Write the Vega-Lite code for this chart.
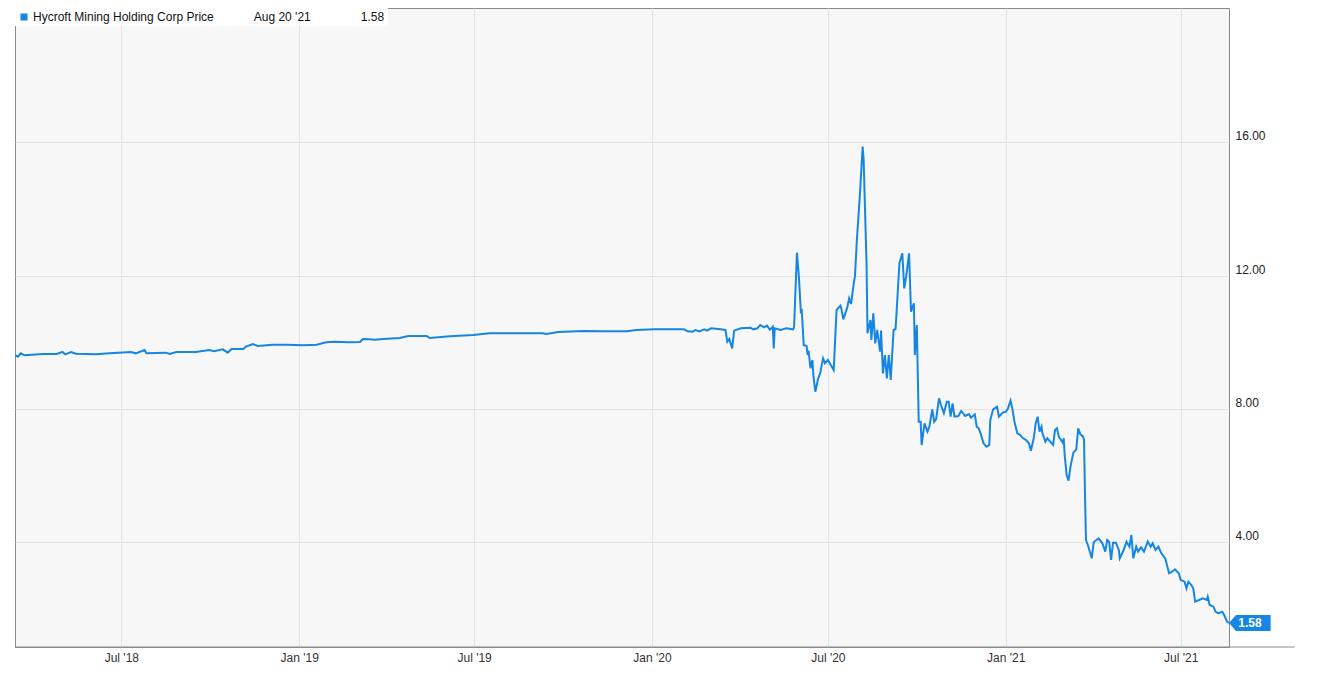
{
  "$schema": "https://vega.github.io/schema/vega-lite/v6.json",
  "width": 1214,
  "height": 639,
  "autosize": {"type": "none"},
  "padding": {"left": 15, "top": 8, "right": 114, "bottom": 33},
  "background": "white",
  "config": {
    "view": {"fill": "#f7f7f7", "stroke": "#8a8a8a", "strokeWidth": 1},
    "font": "Liberation Sans"
  },
  "data": {"values": [
    {"date": "2018-03-13", "price": 9.62}, {"date": "2018-03-16", "price": 9.57}, {"date": "2018-03-19", "price": 9.67}, {"date": "2018-03-23", "price": 9.61},
    {"date": "2018-04-11", "price": 9.65}, {"date": "2018-04-25", "price": 9.65}, {"date": "2018-05-01", "price": 9.71}, {"date": "2018-05-04", "price": 9.64},
    {"date": "2018-05-10", "price": 9.71}, {"date": "2018-05-15", "price": 9.66}, {"date": "2018-06-05", "price": 9.64}, {"date": "2018-06-19", "price": 9.67},
    {"date": "2018-07-11", "price": 9.71}, {"date": "2018-07-16", "price": 9.67}, {"date": "2018-07-25", "price": 9.77}, {"date": "2018-07-27", "price": 9.67},
    {"date": "2018-08-16", "price": 9.69}, {"date": "2018-08-20", "price": 9.65}, {"date": "2018-08-27", "price": 9.71}, {"date": "2018-09-16", "price": 9.71},
    {"date": "2018-09-30", "price": 9.77}, {"date": "2018-10-05", "price": 9.73}, {"date": "2018-10-14", "price": 9.79}, {"date": "2018-10-19", "price": 9.69},
    {"date": "2018-10-23", "price": 9.80}, {"date": "2018-11-04", "price": 9.80}, {"date": "2018-11-07", "price": 9.87}, {"date": "2018-11-14", "price": 9.95},
    {"date": "2018-11-19", "price": 9.89}, {"date": "2018-12-05", "price": 9.93}, {"date": "2018-12-19", "price": 9.93}, {"date": "2019-01-05", "price": 9.91},
    {"date": "2019-01-19", "price": 9.93}, {"date": "2019-01-29", "price": 10.00}, {"date": "2019-02-07", "price": 10.02}, {"date": "2019-02-22", "price": 10.00},
    {"date": "2019-03-05", "price": 10.01}, {"date": "2019-03-08", "price": 10.10}, {"date": "2019-03-15", "price": 10.09}, {"date": "2019-03-20", "price": 10.08},
    {"date": "2019-03-29", "price": 10.10}, {"date": "2019-04-15", "price": 10.13}, {"date": "2019-04-24", "price": 10.19}, {"date": "2019-05-13", "price": 10.19},
    {"date": "2019-05-16", "price": 10.13}, {"date": "2019-06-06", "price": 10.18}, {"date": "2019-06-30", "price": 10.22}, {"date": "2019-07-17", "price": 10.27},
    {"date": "2019-08-14", "price": 10.27}, {"date": "2019-09-10", "price": 10.27}, {"date": "2019-09-14", "price": 10.25}, {"date": "2019-09-26", "price": 10.31},
    {"date": "2019-10-22", "price": 10.34}, {"date": "2019-11-12", "price": 10.33}, {"date": "2019-12-06", "price": 10.33}, {"date": "2019-12-16", "price": 10.37},
    {"date": "2020-01-03", "price": 10.39}, {"date": "2020-01-20", "price": 10.39}, {"date": "2020-02-03", "price": 10.39}, {"date": "2020-02-07", "price": 10.33},
    {"date": "2020-02-12", "price": 10.32}, {"date": "2020-02-15", "price": 10.37}, {"date": "2020-02-19", "price": 10.33}, {"date": "2020-02-24", "price": 10.39},
    {"date": "2020-02-27", "price": 10.35}, {"date": "2020-03-02", "price": 10.42}, {"date": "2020-03-12", "price": 10.39}, {"date": "2020-03-17", "price": 10.37},
    {"date": "2020-03-19", "price": 10.02}, {"date": "2020-03-21", "price": 10.10}, {"date": "2020-03-24", "price": 9.82}, {"date": "2020-03-26", "price": 10.35},
    {"date": "2020-04-02", "price": 10.42}, {"date": "2020-04-12", "price": 10.44}, {"date": "2020-04-15", "price": 10.39}, {"date": "2020-04-19", "price": 10.42},
    {"date": "2020-04-22", "price": 10.52}, {"date": "2020-04-26", "price": 10.45}, {"date": "2020-04-29", "price": 10.50}, {"date": "2020-05-02", "price": 10.38},
    {"date": "2020-05-05", "price": 10.47}, {"date": "2020-05-06", "price": 9.82}, {"date": "2020-05-07", "price": 10.42}, {"date": "2020-05-13", "price": 10.37},
    {"date": "2020-05-19", "price": 10.42}, {"date": "2020-05-26", "price": 10.39}, {"date": "2020-05-27", "price": 10.45}, {"date": "2020-05-30", "price": 12.69},
    {"date": "2020-06-01", "price": 11.97}, {"date": "2020-06-03", "price": 10.92}, {"date": "2020-06-04", "price": 10.95}, {"date": "2020-06-06", "price": 9.92},
    {"date": "2020-06-09", "price": 9.89}, {"date": "2020-06-10", "price": 9.62}, {"date": "2020-06-11", "price": 9.75}, {"date": "2020-06-13", "price": 9.22},
    {"date": "2020-06-15", "price": 9.47}, {"date": "2020-06-16", "price": 9.00}, {"date": "2020-06-18", "price": 8.52}, {"date": "2020-06-21", "price": 8.92},
    {"date": "2020-06-23", "price": 9.07}, {"date": "2020-06-26", "price": 9.52}, {"date": "2020-06-28", "price": 9.37}, {"date": "2020-07-01", "price": 9.47},
    {"date": "2020-07-07", "price": 9.17}, {"date": "2020-07-10", "price": 10.97}, {"date": "2020-07-14", "price": 11.10}, {"date": "2020-07-15", "price": 11.00},
    {"date": "2020-07-17", "price": 10.69}, {"date": "2020-07-21", "price": 11.04}, {"date": "2020-07-23", "price": 11.32}, {"date": "2020-07-25", "price": 11.15},
    {"date": "2020-07-28", "price": 11.82}, {"date": "2020-07-29", "price": 11.97}, {"date": "2020-07-31", "price": 13.07}, {"date": "2020-08-03", "price": 14.37},
    {"date": "2020-08-06", "price": 15.87}, {"date": "2020-08-07", "price": 15.47}, {"date": "2020-08-10", "price": 12.37}, {"date": "2020-08-11", "price": 10.27},
    {"date": "2020-08-14", "price": 10.67}, {"date": "2020-08-15", "price": 10.07}, {"date": "2020-08-17", "price": 10.87}, {"date": "2020-08-19", "price": 9.97},
    {"date": "2020-08-21", "price": 10.37}, {"date": "2020-08-24", "price": 9.72}, {"date": "2020-08-25", "price": 10.35}, {"date": "2020-08-27", "price": 9.07},
    {"date": "2020-08-29", "price": 9.62}, {"date": "2020-08-31", "price": 8.92}, {"date": "2020-09-02", "price": 9.62}, {"date": "2020-09-04", "price": 8.87},
    {"date": "2020-09-07", "price": 10.37}, {"date": "2020-09-09", "price": 10.40}, {"date": "2020-09-10", "price": 10.87}, {"date": "2020-09-13", "price": 12.37},
    {"date": "2020-09-16", "price": 12.67}, {"date": "2020-09-18", "price": 11.62}, {"date": "2020-09-20", "price": 11.97}, {"date": "2020-09-23", "price": 12.67},
    {"date": "2020-09-25", "price": 10.92}, {"date": "2020-09-28", "price": 11.17}, {"date": "2020-09-29", "price": 9.62}, {"date": "2020-10-01", "price": 10.52},
    {"date": "2020-10-03", "price": 7.62}, {"date": "2020-10-05", "price": 7.62}, {"date": "2020-10-06", "price": 6.92}, {"date": "2020-10-09", "price": 7.57},
    {"date": "2020-10-12", "price": 7.32}, {"date": "2020-10-14", "price": 7.47}, {"date": "2020-10-17", "price": 7.99}, {"date": "2020-10-19", "price": 7.62},
    {"date": "2020-10-21", "price": 7.70}, {"date": "2020-10-24", "price": 8.32}, {"date": "2020-10-26", "price": 8.12}, {"date": "2020-10-29", "price": 7.87},
    {"date": "2020-11-01", "price": 8.22}, {"date": "2020-11-03", "price": 8.22}, {"date": "2020-11-05", "price": 7.77}, {"date": "2020-11-07", "price": 8.17},
    {"date": "2020-11-09", "price": 7.77}, {"date": "2020-11-13", "price": 7.79}, {"date": "2020-11-16", "price": 7.94}, {"date": "2020-11-20", "price": 7.79},
    {"date": "2020-11-24", "price": 7.85}, {"date": "2020-11-26", "price": 7.74}, {"date": "2020-11-30", "price": 7.84}, {"date": "2020-12-02", "price": 7.47},
    {"date": "2020-12-04", "price": 7.42}, {"date": "2020-12-06", "price": 7.27}, {"date": "2020-12-09", "price": 6.97}, {"date": "2020-12-12", "price": 6.87},
    {"date": "2020-12-15", "price": 6.92}, {"date": "2020-12-16", "price": 7.67}, {"date": "2020-12-19", "price": 7.99}, {"date": "2020-12-23", "price": 8.07},
    {"date": "2020-12-25", "price": 7.77}, {"date": "2020-12-29", "price": 7.89}, {"date": "2021-01-01", "price": 7.92}, {"date": "2021-01-03", "price": 7.99},
    {"date": "2021-01-06", "price": 8.25}, {"date": "2021-01-08", "price": 7.99}, {"date": "2021-01-10", "price": 7.62}, {"date": "2021-01-13", "price": 7.27},
    {"date": "2021-01-16", "price": 7.22}, {"date": "2021-01-19", "price": 7.12}, {"date": "2021-01-22", "price": 7.07}, {"date": "2021-01-25", "price": 6.97},
    {"date": "2021-01-27", "price": 6.75}, {"date": "2021-01-30", "price": 7.12}, {"date": "2021-02-01", "price": 7.57}, {"date": "2021-02-03", "price": 7.77},
    {"date": "2021-02-05", "price": 7.32}, {"date": "2021-02-07", "price": 7.47}, {"date": "2021-02-08", "price": 7.27}, {"date": "2021-02-11", "price": 7.02},
    {"date": "2021-02-13", "price": 7.12}, {"date": "2021-02-16", "price": 7.02}, {"date": "2021-02-19", "price": 6.92}, {"date": "2021-02-21", "price": 7.37},
    {"date": "2021-02-23", "price": 7.42}, {"date": "2021-02-25", "price": 7.17}, {"date": "2021-02-26", "price": 7.12}, {"date": "2021-03-01", "price": 6.99},
    {"date": "2021-03-02", "price": 7.12}, {"date": "2021-03-03", "price": 6.62}, {"date": "2021-03-05", "price": 6.02}, {"date": "2021-03-07", "price": 5.85},
    {"date": "2021-03-09", "price": 6.27}, {"date": "2021-03-12", "price": 6.69}, {"date": "2021-03-15", "price": 6.79}, {"date": "2021-03-17", "price": 7.42},
    {"date": "2021-03-19", "price": 7.25}, {"date": "2021-03-22", "price": 7.17}, {"date": "2021-03-23", "price": 7.07}, {"date": "2021-03-24", "price": 5.47},
    {"date": "2021-03-25", "price": 4.07}, {"date": "2021-03-27", "price": 3.92}, {"date": "2021-03-31", "price": 3.52}, {"date": "2021-04-02", "price": 4.00},
    {"date": "2021-04-07", "price": 4.12}, {"date": "2021-04-11", "price": 3.97}, {"date": "2021-04-14", "price": 3.72}, {"date": "2021-04-16", "price": 4.07},
    {"date": "2021-04-18", "price": 4.02}, {"date": "2021-04-20", "price": 3.47}, {"date": "2021-04-22", "price": 3.99}, {"date": "2021-04-25", "price": 3.99},
    {"date": "2021-04-28", "price": 3.77}, {"date": "2021-04-29", "price": 3.52}, {"date": "2021-05-03", "price": 3.77}, {"date": "2021-05-06", "price": 4.02},
    {"date": "2021-05-09", "price": 3.87}, {"date": "2021-05-11", "price": 4.22}, {"date": "2021-05-13", "price": 3.52}, {"date": "2021-05-16", "price": 3.87},
    {"date": "2021-05-18", "price": 3.72}, {"date": "2021-05-21", "price": 3.85}, {"date": "2021-05-24", "price": 3.72}, {"date": "2021-05-28", "price": 4.02},
    {"date": "2021-05-31", "price": 3.87}, {"date": "2021-06-02", "price": 3.97}, {"date": "2021-06-05", "price": 3.77}, {"date": "2021-06-08", "price": 3.87},
    {"date": "2021-06-11", "price": 3.67}, {"date": "2021-06-15", "price": 3.52}, {"date": "2021-06-19", "price": 3.07}, {"date": "2021-06-22", "price": 3.12},
    {"date": "2021-06-25", "price": 3.19}, {"date": "2021-06-29", "price": 3.07}, {"date": "2021-07-01", "price": 2.87}, {"date": "2021-07-05", "price": 2.82},
    {"date": "2021-07-07", "price": 2.62}, {"date": "2021-07-09", "price": 2.82}, {"date": "2021-07-12", "price": 2.72}, {"date": "2021-07-14", "price": 2.62},
    {"date": "2021-07-16", "price": 2.22}, {"date": "2021-07-20", "price": 2.27}, {"date": "2021-07-24", "price": 2.32}, {"date": "2021-07-28", "price": 2.27},
    {"date": "2021-07-29", "price": 2.37}, {"date": "2021-07-31", "price": 2.12}, {"date": "2021-08-04", "price": 2.07}, {"date": "2021-08-06", "price": 1.92},
    {"date": "2021-08-09", "price": 1.87}, {"date": "2021-08-13", "price": 1.92}, {"date": "2021-08-15", "price": 1.82}, {"date": "2021-08-18", "price": 1.62},
    {"date": "2021-08-20", "price": 1.58}
  ]},
  "layer": [
    {
      "mark": {"type": "line", "strokeWidth": 2, "clip": true, "interpolate": "linear"},
      "encoding": {
        "x": {
          "field": "date", "type": "temporal",
          "scale": {"type": "utc", "domain": [{"year": 2018, "month": 3, "date": 13, "utc": true}, {"year": 2021, "month": 8, "date": 20, "utc": true}]},
          "axis": {
            "title": null, "format": "%b '%y", "tickCount": {"interval": "month", "step": 6},
            "grid": true, "gridColor": "#e4e4e4", "ticks": false, "domain": false,
            "labelPadding": 5, "labelFontSize": 12, "labelColor": "#333333", "labelFont": "Liberation Sans",
            "labelFlush": false, "labelOverlap": false
          }
        },
        "y": {
          "field": "price", "type": "quantitative",
          "scale": {"domain": [0.86, 20.03], "nice": false, "zero": false},
          "axis": {
            "title": null, "orient": "right", "values": [4, 8, 12, 16], "format": ".2f",
            "grid": true, "gridColor": "#e4e4e4", "ticks": false, "tickSize": 0, "domain": false,
            "labelPadding": 6, "labelAlign": "left", "labelBaseline": "alphabetic", "labelOffset": -2.5,
            "labelFontSize": 12, "labelColor": "#222222", "labelFont": "Liberation Sans"
          }
        },
        "color": {
          "datum": "Hycroft Mining Holding Corp Price",
          "scale": {"range": ["#1586e4"]},
          "legend": {
            "title": null, "orient": "top-left", "offset": 0, "padding": 3, "fillColor": "white",
            "labelFont": "Liberation Sans", "labelFontSize": 12, "labelColor": "#111111", "labelLimit": 0, "labelOffset": 3,
            "symbolType": "square", "symbolSize": 49, "symbolFillColor": "#1586e4", "symbolStrokeWidth": 0,
            "labelExpr": "datum.label + \"\u00a0\u00a0\u00a0\u00a0\u00a0\u00a0\u00a0\u00a0\u00a0\u00a0\u00a0\u00a0Aug 20 '21\u00a0\u00a0\u00a0\u00a0\u00a0\u00a0\u00a0\u00a0\u00a0\u00a0\u00a0\u00a0\u00a0\u00a0\u00a01.58\"",
            "encode": {"symbols": {"update": {"fill": {"value": "#1586e4"}, "strokeWidth": {"value": 0}, "shape": {"value": "square"}}}}
          }
        }
      }
    },
    {
      "data": {"values": [{}]},
      "mark": {"type": "rule", "color": "#8a8a8a", "strokeWidth": 1, "clip": false},
      "encoding": {
        "x": {"datum": {"year": 2018, "month": 3, "date": 13, "utc": true}, "type": "temporal"},
        "x2": {"datum": {"year": 2021, "month": 10, "date": 27, "utc": true}},
        "y": {"datum": 0.86, "type": "quantitative"}
      }
    },
    {
      "transform": [
        {"joinaggregate": [{"op": "max", "field": "date", "as": "last"}]},
        {"filter": "time(datum.date) === time(datum.last)"}
      ],
      "mark": {"type": "point", "shape": "M0,0L0.875,-1L5.2,-1L5.2,1L0.875,1Z", "size": 256, "filled": true, "fill": "#1586e4", "opacity": 1, "strokeWidth": 0, "clip": false},
      "encoding": {
        "x": {"field": "date", "type": "temporal"},
        "y": {"field": "price", "type": "quantitative"}
      }
    },
    {
      "transform": [
        {"joinaggregate": [{"op": "max", "field": "date", "as": "last"}]},
        {"filter": "time(datum.date) === time(datum.last)"}
      ],
      "mark": {"type": "text", "color": "white", "fontWeight": "bold", "fontSize": 12, "font": "Liberation Sans", "dx": 21, "align": "center", "baseline": "middle", "clip": false},
      "encoding": {
        "x": {"field": "date", "type": "temporal"},
        "y": {"field": "price", "type": "quantitative"},
        "text": {"field": "price", "type": "quantitative", "format": ".2f"}
      }
    }
  ]
}
